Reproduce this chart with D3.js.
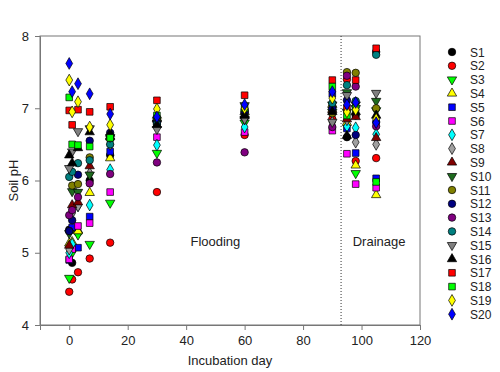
<!DOCTYPE html>
<html>
<head>
<meta charset="utf-8">
<script src="https://cdn.jsdelivr.net/npm/d3@7"></script>
<style>
  body { margin: 0; background: #fff; }
  text { font-family: "Liberation Sans", Arial, sans-serif; }
</style>
</head>
<body>
<svg width="500" height="372"></svg>
<script>
// incubation days sampled
var days = [0, 1, 3, 7, 14, 30, 60, 90, 95, 98, 105];

var soils = ["S1", "S2", "S3", "S4", "S5", "S6", "S7", "S8", "S9", "S10",
             "S11", "S12", "S13", "S14", "S15", "S16", "S17", "S18", "S19", "S20"];

// soil pH per soil, one value per day above
var S1  = [5.32, 4.86, 5.28, 6.00, 6.35, 6.80, 6.98, 7.02, 6.60, 6.90, 7.78];
var S2  = [4.46, 4.63, 4.73, 4.92, 5.14, 5.84, 6.63, 6.85, 7.40, 6.27, 6.31];
var S3  = [4.65, 5.00, 5.25, 5.12, 5.69, 6.38, 6.80, 6.95, 6.95, 6.10, 6.97];
var S4  = [5.13, 5.15, 5.30, 5.83, 6.31, 6.90, 6.95, 7.05, 6.80, 6.21, 5.80];
var S5  = [4.90, 5.35, 5.07, 5.50, 6.40, 6.82, 6.90, 7.20, 6.72, 6.38, 6.03];
var S6  = [4.91, 5.05, 5.37, 5.41, 5.84, 6.60, 6.67, 6.69, 6.37, 5.95, 5.90];
var S7  = [5.00, 5.12, 5.65, 5.66, 6.15, 6.49, 6.74, 7.07, 6.75, 6.73, 6.64];
var S8  = [5.05, 5.55, 5.65, 6.10, 6.50, 6.75, 6.85, 6.81, 6.84, 6.53, 6.50];
var S9  = [5.10, 5.66, 5.70, 6.20, 6.60, 6.85, 6.90, 6.98, 6.85, 6.88, 6.59];
var S10 = [5.27, 5.85, 5.84, 6.08, 6.55, 6.80, 7.04, 7.05, 7.22, 7.05, 7.10];
var S11 = [5.30, 5.93, 5.95, 6.32, 6.60, 6.85, 6.95, 6.93, 7.50, 7.49, 7.00];
var S12 = [5.30, 5.45, 6.08, 6.55, 6.66, 6.80, 6.95, 7.00, 7.11, 6.63, 6.81];
var S13 = [5.52, 5.59, 5.77, 5.96, 6.09, 6.25, 6.39, 6.74, 7.45, 7.30, 6.75];
var S14 = [6.05, 6.12, 6.24, 6.28, 6.50, 6.78, 6.88, 7.07, 7.32, 7.10, 7.74];
var S15 = [6.17, 6.40, 6.68, 6.72, 6.60, 6.71, 6.85, 6.81, 7.18, 7.00, 7.21];
var S16 = [6.35, 6.24, 6.45, 6.67, 6.65, 6.77, 6.90, 6.95, 6.62, 6.95, 6.90];
var S17 = [6.97, 6.77, 6.98, 6.95, 7.02, 7.11, 7.18, 7.39, 7.00, 7.39, 7.83];
var S18 = [7.15, 6.50, 6.49, 6.47, 6.59, 6.90, 7.00, 7.30, 6.90, 7.00, 5.98];
var S19 = [7.39, 6.95, 7.09, 6.74, 6.77, 6.99, 7.00, 7.14, 6.95, 6.98, 6.85];
var S20 = [7.62, 7.23, 7.34, 7.20, 6.92, 6.88, 7.05, 7.23, 7.05, 7.08, 6.80];

var xTicks = [0, 20, 40, 60, 80, 100, 120];
var yTicks = [4, 5, 6, 7, 8];

var values = [S1, S2, S3, S4, S5, S6, S7, S8, S9, S10,
              S11, S12, S13, S14, S15, S16, S17, S18, S19, S20];

// marker look per soil
var fills = ["#000000", "#ff0000", "#00ff00", "#ffff00", "#0000ff", "#ff00ff", "#00ffff", "#a0a0a0", "#800000", "#1e6b1e",
             "#808000", "#000080", "#800080", "#008080", "#808080", "#000000", "#ff0000", "#00ff00", "#ffff00", "#0000ff"];
var shapes = ["circle", "circle", "down", "up", "square", "square", "diamond", "diamond", "up", "down",
              "circle", "circle", "circle", "circle", "down", "up", "square", "square", "diamond", "diamond"];

var margin = { top: 36, right: 80, bottom: 47, left: 40 };
var width = 500, height = 372;

var svg = d3.select("svg");

var x = d3.scaleLinear().domain([-10, 120]).range([margin.left, width - margin.right]);
var y = d3.scaleLinear().domain([4, 8]).range([height - margin.bottom, margin.top]);

function symbolPath(s) {
    var t = { circle: d3.symbolCircle, square: d3.symbolSquare, up: d3.symbolTriangle,
              down: d3.symbolTriangle, diamond: d3.symbolDiamond }[s];
    var size = { circle: 44, square: 44, up: 38, down: 38, diamond: 40 }[s];
    return d3.symbol().type(t).size(size)();
}
function rot(s) { return s === "down" ? " rotate(180)" : ""; }

// frame
svg.append("rect")
    .attr("x", x(-10)).attr("y", y(8))
    .attr("width", x(120) - x(-10)).attr("height", y(4) - y(8))
    .attr("fill", "none").attr("stroke", "#777").attr("stroke-width", 1);

// drainage line
svg.append("line")
    .attr("x1", x(93)).attr("x2", x(93))
    .attr("y1", y(8)).attr("y2", y(4))
    .attr("stroke", "#333").attr("stroke-dasharray", "1,2").attr("stroke-width", 1);

// axes
var gx = svg.append("g")
    .attr("transform", "translate(0," + y(4) + ")")
    .call(d3.axisBottom(x).tickValues(xTicks).tickFormat(d3.format("d")).tickSize(5).tickPadding(6));
var gy = svg.append("g")
    .attr("transform", "translate(" + x(-10) + ",0)")
    .call(d3.axisLeft(y).tickValues(yTicks).tickFormat(d3.format("d")).tickSize(5).tickPadding(6));
[gx, gy].forEach(function (g) {
    g.select(".domain").attr("stroke", "#777");
    g.selectAll(".tick line").attr("stroke", "#777");
    g.selectAll("text").attr("font-size", 13).attr("fill", "#222")
        .style("font-family", "'Liberation Sans', Arial, sans-serif");
});

// points
soils.forEach(function (s, i) {
    svg.append("g").selectAll("path")
        .data(values[i])
        .enter().append("path")
        .attr("d", symbolPath(shapes[i]))
        .attr("transform", function (d, j) {
            return "translate(" + x(days[j]) + "," + y(d) + ")" + rot(shapes[i]);
        })
        .attr("fill", fills[i])
        .attr("stroke", "#000")
        .attr("stroke-width", 0.7);
});

// axis titles
svg.append("text")
    .attr("x", (x(-10) + x(120)) / 2).attr("y", 365)
    .attr("text-anchor", "middle").attr("font-size", 13).attr("fill", "#222")
    .text("Incubation day");
svg.append("text")
    .attr("transform", "translate(18," + (y(6)) + ") rotate(-90)")
    .attr("text-anchor", "middle").attr("font-size", 13).attr("fill", "#222")
    .text("Soil pH");

// phase labels
svg.append("text").attr("x", x(50)).attr("y", y(5.1))
    .attr("text-anchor", "middle").attr("font-size", 13).attr("fill", "#222").text("Flooding");
svg.append("text").attr("x", x(106)).attr("y", y(5.1))
    .attr("text-anchor", "middle").attr("font-size", 13).attr("fill", "#222").text("Drainage");

// legend
var legend = svg.append("g");
soils.forEach(function (s, i) {
    var ly = 52 + i * 13.8;
    legend.append("path")
        .attr("d", symbolPath(shapes[i]))
        .attr("transform", "translate(452," + ly + ")" + rot(shapes[i]))
        .attr("fill", fills[i]).attr("stroke", "#000").attr("stroke-width", 0.7);
    legend.append("text")
        .attr("x", 470).attr("y", ly + 4.5)
        .attr("font-size", 12).attr("fill", "#222").text(s);
});
</script>
</body>
</html>
